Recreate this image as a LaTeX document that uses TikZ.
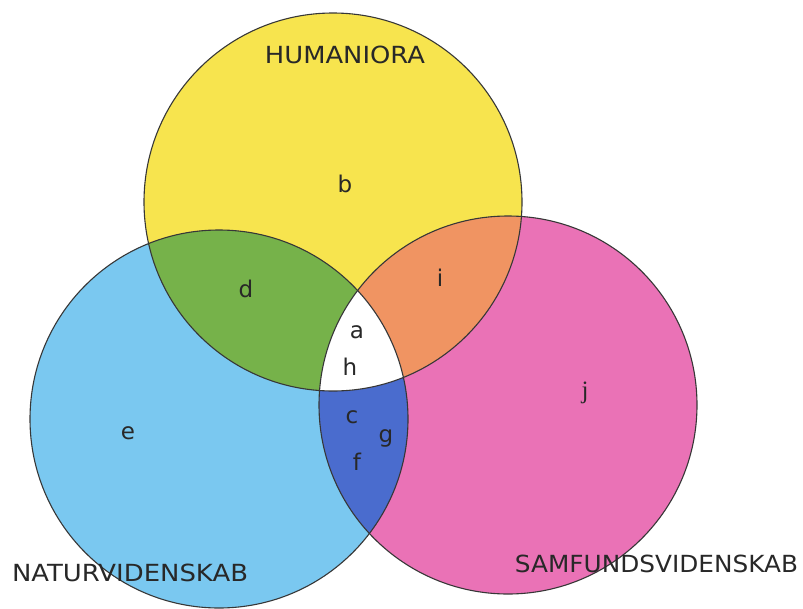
\documentclass[tikz,border=0pt]{standalone}
\usepackage{fontspec}
\usepackage{graphicx}
\setmainfont{DejaVu Sans}
\newfontfamily\serifj{Liberation Serif}
\definecolor{cyellow}{RGB}{247,228,78}
\definecolor{cblue}{RGB}{122,200,240}
\definecolor{cpink}{RGB}{234,114,182}
\definecolor{cgreen}{RGB}{118,178,74}
\definecolor{corange}{RGB}{240,148,98}
\definecolor{cdark}{RGB}{74,108,206}
\definecolor{cline}{RGB}{55,55,55}
\definecolor{ctext}{RGB}{40,40,40}
\begin{document}
\begin{tikzpicture}[x=1pt,y=-1pt,
  lbl/.style={inner sep=0pt,text=ctext,font=\fontsize{23}{25}\selectfont},
  caplbl/.style={inner sep=0pt,text=ctext},
  ring/.style={draw=cline,line width=1.1pt}]
\useasboundingbox (0,0) rectangle (803,608);
\coordinate (Y) at (333,202);
\coordinate (B) at (219,419);
\coordinate (P) at (508,405);
% base fills
\fill[cyellow] (Y) circle[radius=189pt];
\fill[cblue] (B) circle[radius=189pt];
\fill[cpink] (P) circle[radius=189pt];
% overlaps
\begin{scope}
  \clip (Y) circle[radius=189pt];
  \fill[cgreen] (B) circle[radius=189pt];
  \fill[corange] (P) circle[radius=189pt];
\end{scope}
\begin{scope}
  \clip (B) circle[radius=189pt];
  \fill[cdark] (P) circle[radius=189pt];
  \clip (P) circle[radius=189pt];
  \fill[white] (Y) circle[radius=189pt];
\end{scope}
% outlines
\draw[ring] (Y) circle[radius=189pt];
\draw[ring] (B) circle[radius=189pt];
\draw[ring] (P) circle[radius=189pt];
% region labels
\node[lbl] (b) at (345,184) {b};
\node[lbl] (d) at (246,289) {d};
\node[lbl] (i) at (440,278) {i};
\node[lbl] (a) at (357,332) {a};
\node[lbl] (h) at (350,367) {h};
\node[lbl] (c) at (352,417) {c};
\node[lbl] (g) at (386,438) {g};
\node[lbl] (f) at (357,462) {f};
\node[lbl] (e) at (128,433) {e};
\node[lbl,font=\serifj\fontsize{25}{27}\selectfont] (j) at (585,393) {j};
% field labels
\node[caplbl] (hum) at (345,55) {\resizebox{160pt}{17.5pt}{HUMANIORA}};
\node[caplbl] (nat) at (130,572.5) {\resizebox{236pt}{17.5pt}{NATURVIDENSKAB}};
\node[caplbl] (sam) at (656.5,564) {\resizebox{283pt}{17.5pt}{SAMFUNDSVIDENSKAB}};
\end{tikzpicture}
\end{document}
